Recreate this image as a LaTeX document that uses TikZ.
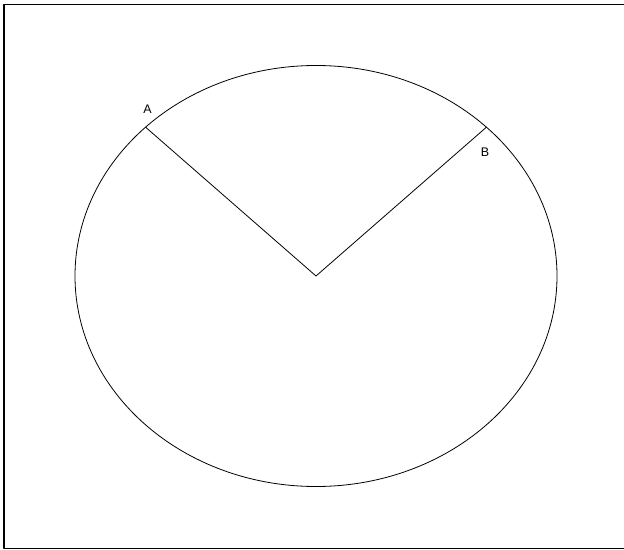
\documentclass[tikz,border=0pt]{standalone}
\usepackage{fontspec}
\setmainfont{Liberation Sans}
\tikzset{
	shema/.style={x=1bp, y=-1bp, line join=round},
	okvir/.style={draw, line width=1.6bp},
	elipsa/.style={draw, line width=0.8bp},
	polmer/.style={draw, line width=0.8bp},
	oznaka/.style={font=\fontsize{12.5}{14}\selectfont, inner sep=1pt},
}
\begin{document}
\begin{tikzpicture}[shema]

\useasboundingbox (0,0) rectangle (624,550);
\draw[okvir] (4,4.5) rectangle (632,548.5);

\coordinate (sredisce) at (316,276);
\coordinate (tockaA) at (145.6,127.2);
\coordinate (tockaB) at (486.4,127.2);

\draw[elipsa] (sredisce) ellipse [x radius=241, y radius=210.5];
\draw[polmer] (tockaA) -- (sredisce) -- (tockaB);

\node[oznaka] (oznakaA) at (147.5,109) {A};
\node[oznaka] (oznakaB) at (485,152) {B};

\end{tikzpicture}
\end{document}
